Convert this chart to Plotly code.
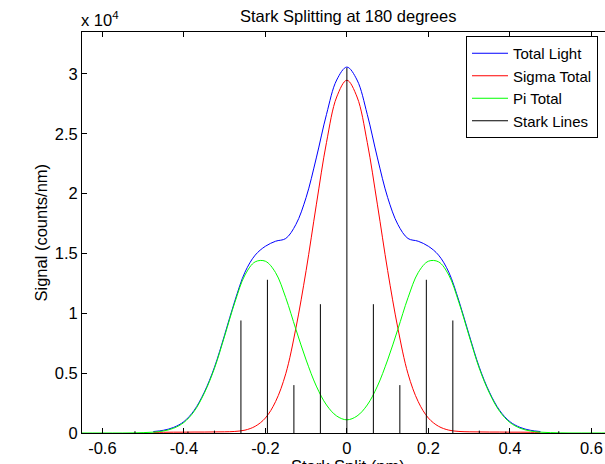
import plotly.graph_objects as go

# ---- data (signal in units of 1e4 counts/nm) ----
x_pi = [-0.65, -0.625, -0.6, -0.575, -0.55, -0.525, -0.5, -0.475, -0.45, -0.425, -0.4,
        -0.375, -0.35, -0.325, -0.3, -0.275, -0.25, -0.225, -0.2, -0.175, -0.15, -0.125,
        -0.1, -0.075, -0.05, -0.025, 0.0, 0.025, 0.05, 0.075, 0.1, 0.125, 0.15, 0.175,
        0.2, 0.225, 0.25, 0.275, 0.3, 0.325, 0.35, 0.375, 0.4, 0.425, 0.45, 0.475, 0.5,
        0.525, 0.55, 0.575, 0.6, 0.625, 0.65]
pi_total = [0.0, 0.0, 0.0, 0.0, 0.0, 0.001, 0.003, 0.007, 0.017, 0.040, 0.088, 0.180,
            0.332, 0.540, 0.810, 1.090, 1.320, 1.430, 1.435, 1.340, 1.130, 0.865, 0.610,
            0.392, 0.234, 0.142, 0.110, 0.142, 0.234, 0.392, 0.610, 0.865, 1.130, 1.340,
            1.435, 1.430, 1.320, 1.090, 0.810, 0.540, 0.332, 0.180, 0.088, 0.040, 0.017,
            0.007, 0.003, 0.001, 0.0, 0.0, 0.0, 0.0, 0.0]

x_sig = [-0.475, -0.45, -0.425, -0.4, -0.375, -0.35, -0.325, -0.3, -0.275, -0.25, -0.225,
         -0.2, -0.175, -0.15, -0.125, -0.1, -0.075, -0.05, -0.025, 0.0, 0.025, 0.05, 0.075,
         0.1, 0.125, 0.15, 0.175, 0.2, 0.225, 0.25, 0.275, 0.3, 0.325, 0.35, 0.375, 0.4,
         0.425, 0.45, 0.475]
sigma_total = [0.005, 0.006, 0.007, 0.007, 0.008, 0.008, 0.009, 0.010, 0.013, 0.024, 0.056,
               0.125, 0.262, 0.495, 0.878, 1.358, 1.906, 2.428, 2.807, 2.947, 2.807, 2.428,
               1.906, 1.358, 0.878, 0.495, 0.262, 0.125, 0.056, 0.024, 0.013, 0.010, 0.009,
               0.008, 0.008, 0.007, 0.007, 0.006, 0.005]
total_light = [0.012, 0.023, 0.047, 0.095, 0.188, 0.340, 0.549, 0.820, 1.103, 1.344, 1.486,
               1.560, 1.602, 1.625, 1.743, 1.968, 2.298, 2.662, 2.949, 3.057, 2.949, 2.662,
               2.298, 1.968, 1.743, 1.625, 1.602, 1.560, 1.486, 1.344, 1.103, 0.820, 0.549,
               0.340, 0.188, 0.095, 0.047, 0.023, 0.012]

stark_pos = [-0.52, -0.39, -0.325, -0.26, -0.195, -0.13, -0.065, 0.0, 0.065, 0.13, 0.195,
             0.26, 0.325, 0.39, 0.52]
stark_h = [0.015, 0.012, 0.02, 0.94, 1.28, 0.40, 1.076, 3.05, 1.076, 0.40, 1.28, 0.94,
           0.02, 0.012, 0.015]

x_ticks = [-0.6, -0.4, -0.2, 0, 0.2, 0.4, 0.6]
x_ticklabels = ["-0.6", "-0.4", "-0.2", "0", "0.2", "0.4", "0.6"]
y_ticks = [0, 0.5, 1, 1.5, 2, 2.5, 3]
y_ticklabels = ["0", "0.5", "1", "1.5", "2", "2.5", "3"]

FONT = "Liberation Sans, Arial, sans-serif"
FS = 16.5
LEG_FS = 15

fig = go.Figure()
fig.add_trace(go.Scatter(x=x_sig, y=total_light, mode="lines", name="Total Light",
                         line=dict(color="#0000ff", width=1, shape="spline")))
fig.add_trace(go.Scatter(x=x_sig, y=sigma_total, mode="lines", name="Sigma Total",
                         line=dict(color="#ff0000", width=1, shape="spline")))
fig.add_trace(go.Scatter(x=x_pi, y=pi_total, mode="lines", name="Pi Total",
                         line=dict(color="#00ff00", width=1, shape="spline")))

sx, sy = [], []
for p, h in zip(stark_pos, stark_h):
    sx += [p, p, None]
    sy += [0, h, None]
fig.add_trace(go.Scatter(x=sx, y=sy, mode="lines", name="Stark Lines",
                         line=dict(color="#000000", width=1)))

W, H = 605, 464
L, R, T, B = 82, 0, 32, 31
ppu = 407.5
x0 = -0.65
x1 = x0 + (W - L - R) / ppu

fig.update_layout(
    width=W, height=H,
    margin=dict(l=L, r=R, t=T, b=B, autoexpand=False),
    paper_bgcolor="white", plot_bgcolor="white",
    font=dict(family=FONT, size=FS, color="black"),
    showlegend=True,
    hovermode=False,
    legend=dict(x=(466 - L) / (W - L - R), xanchor="left",
                y=(H - B - 36) / (H - T - B), yanchor="top",
                bgcolor="white", bordercolor="black", borderwidth=1,
                itemwidth=36, tracegroupgap=0,
                font=dict(family=FONT, size=LEG_FS, color="black")),
    xaxis=dict(range=[x0, x1], tickvals=x_ticks, ticktext=x_ticklabels,
               ticks="inside", ticklen=5, tickcolor="black", showline=True,
               linecolor="black", linewidth=1, mirror="ticks", showgrid=False,
               zeroline=False, tickfont=dict(family=FONT, size=FS, color="black")),
    yaxis=dict(range=[0, 3.35], tickvals=y_ticks, ticktext=y_ticklabels,
               ticks="inside", ticklen=5, tickcolor="black", showline=True,
               linecolor="black", linewidth=1, mirror=False, showgrid=False,
               zeroline=False, tickfont=dict(family=FONT, size=FS, color="black")),
    annotations=[
        dict(text="Stark Splitting at 180 degrees", xref="paper", yref="paper",
             x=(347.5 - L) / (W - L - R), y=1 + (T - 15.5) / (H - T - B),
             xanchor="center", yanchor="middle", showarrow=False,
             font=dict(family=FONT, size=FS, color="black")),
        dict(text="x 10<sup>4</sup>", xref="paper", yref="paper",
             x=0, y=1, xanchor="left", yanchor="bottom", yshift=1, xshift=-3,
             showarrow=False, font=dict(family=FONT, size=FS, color="black")),
        dict(text="Signal (counts/nm)", xref="paper", yref="paper",
             x=(40 - L) / (W - L - R), y=0.5, xanchor="center", yanchor="middle",
             textangle=-90, showarrow=False,
             font=dict(family=FONT, size=FS, color="black")),
        dict(text="Stark Split (nm)", xref="paper", yref="paper",
             x=(347.5 - L) / (W - L - R), y=(H - B - 455) / (H - T - B),
             xanchor="center", yanchor="top", showarrow=False,
             font=dict(family=FONT, size=FS, color="black")),
    ],
)

fig.write_html("out.html")
